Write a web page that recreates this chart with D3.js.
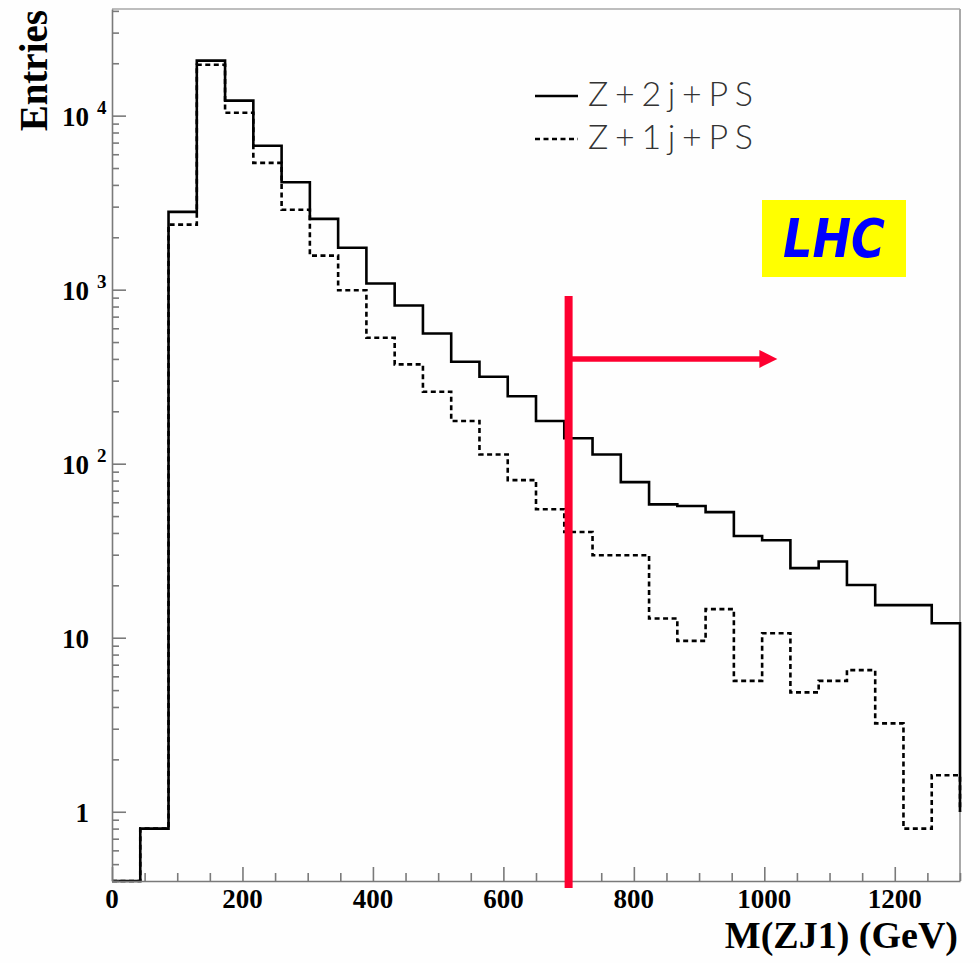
<!DOCTYPE html>
<html>
<head>
<meta charset="utf-8">
<script src="https://cdn.jsdelivr.net/npm/d3@7"></script>
<style>
  html, body { margin: 0; padding: 0; background: #fefefe; }
  svg { display: block; }
</style>
</head>
<body>
<svg id="chart" width="980" height="963"></svg>
<script>
// ---------------- data ----------------
const xMin = 0, xMax = 1300, nBins = 30;
const binEdges = d3.range(nBins + 1).map(i => xMin + i * (xMax - xMin) / nBins);
const z2jPS = [0, 0.8, 2800, 20700, 12200, 6720, 4140, 2550, 1740, 1084, 811, 560, 385, 316, 244,
               176, 140, 113, 78.4, 58.4, 57.1, 52.7, 38.4, 36.3, 25.1, 27.4, 20.1, 15.4, 15.4, 12.1];
const z1jPS = [0, 0.8, 2365, 19600, 10400, 5350, 2880, 1570, 992, 529, 372, 259, 176, 113, 80.5,
               54.7, 40.5, 29.8, 29.8, 12.9, 9.59, 14.6, 5.65, 10.6, 4.85, 5.65, 6.51, 3.22, 0.80, 1.62];
const xMajorTicks = [0, 200, 400, 600, 800, 1000, 1200];
const yMajorTicks = [1, 10, 100, 1000, 10000];
const yTickLabels = [["1", ""], ["10", ""], ["10", "2"], ["10", "3"], ["10", "4"]];
const legendLabels = ["Z+2j+PS", "Z+1j+PS"];
const cutValue = 700, cutTop = 920, arrowEnd = 1020, arrowLevel = 400;
const xTitle = "M(ZJ1) (GeV)", yTitle = "Entries", boxLabel = "LHC";

// ---------------- scales ----------------
const svg = d3.select("#chart");
const L = 112, R = 960, T = 9, B = 881;
const x = d3.scaleLinear().domain([xMin, xMax]).range([L, R]);
const y = d3.scaleLog().domain([0.4, 41000]).range([B, T]);
const yMinV = y.domain()[0];

// frame
svg.append("line").attr("x1", L).attr("x2", R).attr("y1", T).attr("y2", T)
  .attr("stroke", "#bdbdbd").attr("stroke-width", 2);
svg.append("line").attr("x1", R).attr("x2", R).attr("y1", T).attr("y2", B)
  .attr("stroke", "#a8a8a8").attr("stroke-width", 2);

// ---------------- histograms ----------------
function stepPoints(vals) {
  const pts = [[binEdges[0], yMinV]];
  vals.forEach((v, i) => {
    const vv = Math.max(v, yMinV);
    pts.push([binEdges[i], vv]);
    pts.push([binEdges[i + 1], vv]);
  });
  pts.push([binEdges[nBins], 1]);
  return pts;
}
const line = d3.line().x(d => x(d[0])).y(d => y(d[1]));

svg.append("path").attr("d", line(stepPoints(z1jPS)))
  .attr("fill", "none").attr("stroke", "#000").attr("stroke-width", 2.6)
  .attr("stroke-dasharray", "5,3.5");
svg.append("path").attr("d", line(stepPoints(z2jPS)))
  .attr("fill", "none").attr("stroke", "#000").attr("stroke-width", 2.6);

// ---------------- axes ----------------
const xMinor = d3.range(xMin, xMax + 1, 50).filter(v => v % 200 !== 0);
const gx = svg.append("g").attr("transform", `translate(0,${B})`);
gx.call(d3.axisBottom(x).tickValues(xMajorTicks).tickSize(-14).tickSizeOuter(0).tickFormat(""));
gx.append("g").call(d3.axisBottom(x).tickValues(xMinor).tickSize(-8).tickSizeOuter(0).tickFormat(""))
  .select(".domain").remove();
gx.selectAll("path,line").attr("stroke", "#7a7a7a").attr("stroke-width", 1.6);

const yMinor = [];
[0.1, 1, 10, 100, 1000, 10000].forEach(d => {
  for (let k = 2; k <= 9; k++) {
    const v = d * k;
    if (v >= y.domain()[0] && v <= y.domain()[1]) yMinor.push(v);
  }
});
const gy = svg.append("g").attr("transform", `translate(${L},0)`);
gy.call(d3.axisLeft(y).tickValues(yMajorTicks).tickSize(-14).tickSizeOuter(0).tickFormat(""));
gy.append("g").call(d3.axisLeft(y).tickValues(yMinor).tickSize(-7).tickSizeOuter(0).tickFormat(""))
  .select(".domain").remove();
gy.selectAll("path,line").attr("stroke", "#7a7a7a").attr("stroke-width", 1.6);

// x tick labels
svg.append("g").selectAll("text").data(xMajorTicks).join("text")
  .attr("x", d => x(d)).attr("y", 908)
  .attr("text-anchor", "middle")
  .attr("font-family", "'Liberation Serif', 'Times New Roman', serif")
  .attr("font-weight", "bold").attr("font-size", 27).attr("fill", "#000")
  .text(d => d);

// y tick labels
const yl = svg.append("g");
yMajorTicks.forEach((v, i) => {
  const [base, sup] = yTickLabels[i];
  yl.append("text").attr("x", 89).attr("y", y(v) + 10)
    .attr("text-anchor", "end")
    .attr("font-family", "'Liberation Serif', 'Times New Roman', serif")
    .attr("font-weight", "bold").attr("font-size", 27).attr("fill", "#000")
    .text(base);
  if (sup) {
    yl.append("text").attr("x", 97).attr("y", y(v) - 2)
      .attr("font-family", "'Liberation Serif', 'Times New Roman', serif")
      .attr("font-weight", "bold").attr("font-size", 19).attr("fill", "#000")
      .text(sup);
  }
});

// axis titles
svg.append("text").attr("x", 958).attr("y", 948).attr("text-anchor", "end")
  .attr("font-family", "'Liberation Serif', 'Times New Roman', serif")
  .attr("font-weight", "bold").attr("font-size", 38).attr("fill", "#000")
  .text(xTitle);
svg.append("text").attr("transform", "translate(47,10) rotate(-90)")
  .attr("text-anchor", "end")
  .attr("font-family", "'Liberation Serif', 'Times New Roman', serif")
  .attr("font-weight", "bold").attr("font-size", 39).attr("fill", "#000")
  .text(yTitle);

// ---------------- legend ----------------
const lg = svg.append("g");
const legendRows = [{ dy: 96, dash: null }, { dy: 139, dash: "5,3.5" }];
legendRows.forEach((r, i) => {
  lg.append("line").attr("x1", 535).attr("x2", 578).attr("y1", r.dy).attr("y2", r.dy)
    .attr("stroke", "#000").attr("stroke-width", 2.6)
    .attr("stroke-dasharray", r.dash);
  lg.append("text").attr("x", 588).attr("y", r.dy + 10)
    .attr("font-family", "Lato, Roboto, 'DejaVu Sans', sans-serif")
    .attr("font-weight", 300).attr("font-size", 34).attr("fill", "#333")
    .attr("textLength", 165).attr("lengthAdjust", "spacing")
    .text(legendLabels[i]);
});

// ---------------- LHC box ----------------
svg.append("rect").attr("x", 762).attr("y", 200).attr("width", 144).attr("height", 77)
  .attr("fill", "#ffff00");
svg.append("text").attr("x", 783).attr("y", 257)
  .attr("font-family", "'DejaVu Sans', sans-serif")
  .attr("font-weight", "bold").attr("font-style", "italic")
  .attr("font-size", 54).attr("fill", "#0000ff")
  .attr("textLength", 102).attr("lengthAdjust", "spacingAndGlyphs")
  .text(boxLabel);

// ---------------- cut annotation ----------------
const red = "#fe0030";
svg.append("line").attr("x1", x(cutValue)).attr("x2", x(cutValue))
  .attr("y1", y(cutTop)).attr("y2", B + 7)
  .attr("stroke", red).attr("stroke-width", 8);
const ay = y(arrowLevel);
svg.append("line").attr("x1", x(cutValue)).attr("x2", x(arrowEnd) - 16)
  .attr("y1", ay).attr("y2", ay)
  .attr("stroke", red).attr("stroke-width", 5.5);
svg.append("path")
  .attr("d", `M${x(arrowEnd) - 18},${ay - 9} L${x(arrowEnd)},${ay} L${x(arrowEnd) - 18},${ay + 9} Z`)
  .attr("fill", red);
</script>
</body>
</html>
